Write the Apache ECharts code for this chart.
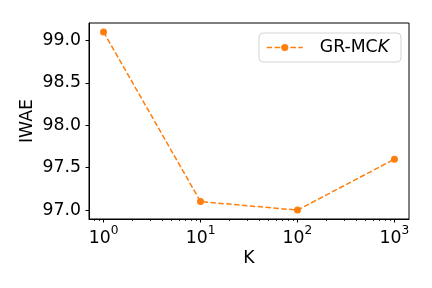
<!DOCTYPE html>
<html><head><meta charset="utf-8">
<script src="https://cdn.jsdelivr.net/npm/echarts@6/dist/echarts.min.js"></script>
<style>html,body{margin:0;padding:0;background:#fff}#c{width:432px;height:288px}</style>
</head><body><div id="c"></div>
<script>
const kValues = [1, 10, 100, 1000];
const iwae = [99.1, 97.1, 97.0, 97.6];
const xMajorTicks = [1, 10, 100, 1000];
const xMinorTicks = [0.8, 0.9, 2, 3, 4, 5, 6, 7, 8, 9, 20, 30, 40, 50, 60, 70, 80, 90, 200, 300, 400, 500, 600, 700, 800, 900];
const yTicks = [97.0, 97.5, 98.0, 98.5, 99.0];
const seriesName = 'GR-MCK';

const FONT = 'DejaVu Sans';
const chart = echarts.init(document.getElementById('c'), null, {renderer: 'canvas'});
const xMin = Math.pow(10, -0.15), xMax = Math.pow(10, 3.15);
chart.setOption({
  animation: false,
  grid: {left: 89, top: 23, right: 23, bottom: 69, show: true, borderColor: '#000', borderWidth: 1, backgroundColor: 'transparent'},
  legend: {
    left: 259, top: 33,
    padding: [6, 12, 6, 7],
    itemWidth: 36, itemHeight: 9,
    backgroundColor: '#fff', borderColor: '#d4d4d4', borderWidth: 1, borderRadius: 4,
    formatter: () => 'GR-MC{i|K}',
    lineStyle: {type: [5.5, 2.4], width: 1.5},
    textStyle: {fontFamily: FONT, fontSize: 17.3, color: '#000', padding: [0, 0, 0, 12],
      rich: {i: {fontFamily: FONT, fontSize: 17.3, fontStyle: 'italic', color: '#000'}}},
    data: [seriesName]
  },
  xAxis: [{
    type: 'log', logBase: 10, min: xMin, max: xMax,
    name: 'K', nameLocation: 'middle', nameGap: 31, nameMoveOverlap: false,
    nameTextStyle: {fontFamily: FONT, fontSize: 17.3, color: '#000'},
    axisLine: {show: true, lineStyle: {color: '#000', width: 1}},
    axisTick: {show: true, length: 3.5, lineStyle: {color: '#000', width: 1}, customValues: xMajorTicks},
    axisLabel: {
      customValues: xMajorTicks, margin: 6,
      formatter: v => '{b|10}{s|' + Math.round(Math.log10(v)) + '}',
      rich: {
        b: {fontFamily: FONT, fontSize: 17.3, color: '#000', lineHeight: 22, verticalAlign: 'bottom'},
        s: {fontFamily: FONT, fontSize: 12.2, color: '#000', lineHeight: 11, verticalAlign: 'top'}
      }
    },
    splitLine: {show: false}, minorTick: {show: false}
  }, {
    type: 'log', logBase: 10, min: xMin, max: xMax, gridIndex: 0, position: 'bottom',
    axisLine: {show: false},
    axisTick: {show: true, length: 2, lineStyle: {color: '#000', width: 0.8}, customValues: xMinorTicks},
    axisLabel: {show: false},
    splitLine: {show: false}
  }],
  yAxis: {
    type: 'value', min: 96.895, max: 99.205,
    name: 'IWAE', nameLocation: 'middle', nameGap: 53, nameMoveOverlap: false,
    nameTextStyle: {fontFamily: FONT, fontSize: 17.3, color: '#000'},
    axisLine: {show: true, lineStyle: {color: '#000', width: 1}},
    axisTick: {show: true, length: 3.5, lineStyle: {color: '#000', width: 1}, customValues: yTicks},
    axisLabel: {customValues: yTicks, margin: 8, formatter: v => v.toFixed(1),
      fontFamily: FONT, fontSize: 17.3, color: '#000'},
    splitLine: {show: false}
  },
  series: [{
    name: seriesName, type: 'line', xAxisIndex: 0,
    data: kValues.map((k, i) => [k, iwae[i]]),
    symbol: 'circle', symbolSize: 7,
    itemStyle: {color: '#ff7f0e'},
    lineStyle: {color: '#ff7f0e', width: 1.5, type: [5.5, 2.4]}
  }]
});
</script></body></html>
